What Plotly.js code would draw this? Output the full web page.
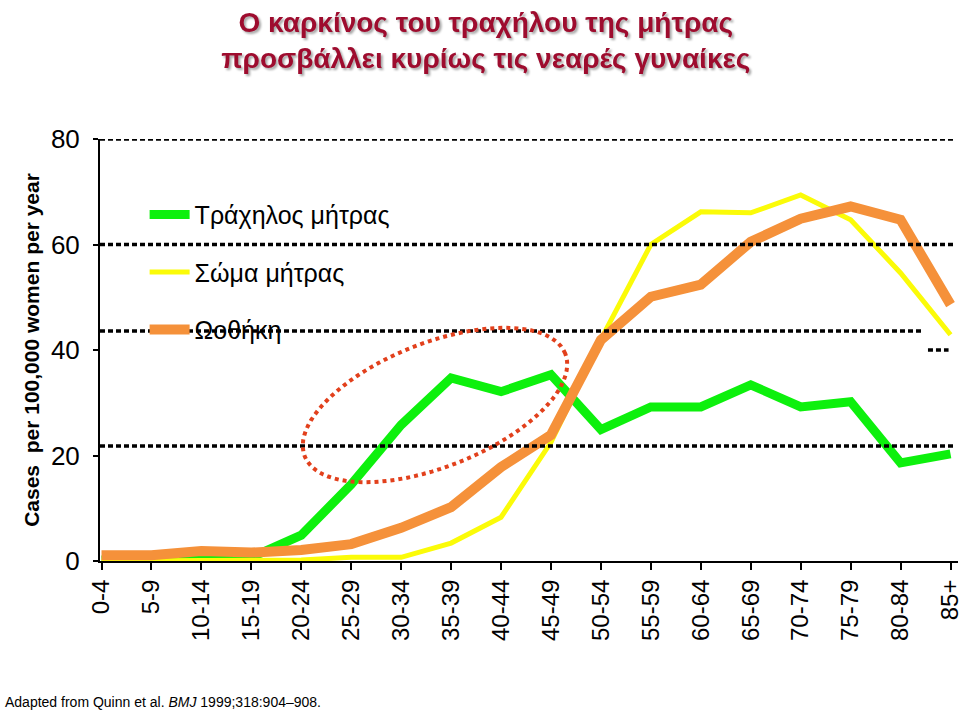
<!DOCTYPE html>
<html><head><meta charset="utf-8">
<script src="https://cdn.plot.ly/plotly-3.0.1.min.js"></script>
<style>
html,body{margin:0;padding:0;background:#fff}
#chart{width:960px;height:711px}
.gtitle{filter:drop-shadow(2px 2px 1px rgba(0,0,0,0.35))}
</style></head><body><div id="chart"></div>
<script>
const ageGroups = ['0-4','5-9','10-14','15-19','20-24','25-29','30-34','35-39','40-44','45-49','50-54','55-59','60-64','65-69','70-74','75-79','80-84','85+'];
const cervix = [0.2, 0.3, 0.6, 0.7, 4.9, 14.5, 25.8, 34.7, 32.1, 35.3, 24.9, 29.2, 29.2, 33.4, 29.2, 30.2, 18.6, 20.3];
const uterus = [0, 0, 0, 0, 0.2, 0.7, 0.7, 3.4, 8.3, 22.5, 42, 60, 66.2, 66, 69.4, 64.7, 54.6, 42.9];
const ovary  = [1.1, 1.1, 1.9, 1.6, 2.1, 3.2, 6.3, 10.2, 17.8, 23.9, 41.9, 50.1, 52.4, 60.5, 64.9, 67.2, 64.7, 48.6];
const seriesNames = ['Τράχηλος μήτρας', 'Σώμα μήτρας', 'Ωοθήκη'];
const yTicks = [0, 20, 40, 60, 80];

// plot area geometry (pixels)
const L = 100, T = 139, W = 858, H = 422;

// dotted reference lines: [y value, x start (paper), x end (paper)]
const refLines = [[80, 0, 0.995], [60, 0, 0.995], [43.6, 0, 0.958], [40, 0.965, 0.989], [21.8, 0, 0.995]];

// highlight ellipse (pixel centre, semi-axes, tilt)
const ellipse = {cx: 435, cy: 405, a: 140, b: 62, tilt: 21.5};
function ellipsePath(e) {
  const al = e.tilt * Math.PI / 180;
  let d = '';
  for (let i = 0; i <= 96; i++) {
    const t = 2 * Math.PI * i / 96;
    const ux = e.a * Math.cos(t), uy = e.b * Math.sin(t);
    const X = ux * Math.cos(al) - uy * Math.sin(al);
    const Y = ux * Math.sin(al) + uy * Math.cos(al);
    const px = e.cx + X, py = e.cy - Y;
    const xp = (px - L) / W, yp = (T + H - py) / H;
    d += (i === 0 ? 'M' : 'L') + xp.toFixed(4) + ',' + yp.toFixed(4);
  }
  return d + 'Z';
}

const shapes = refLines.map(r => ({
  type: 'line', xref: 'paper', yref: 'y', x0: r[1], x1: r[2], y0: r[0], y1: r[0],
  line: {color: '#000', width: 3.5, dash: '5px,3px'}
}));
shapes.push({type: 'path', xref: 'paper', yref: 'paper', path: ellipsePath(ellipse),
  line: {color: '#e2401c', width: 4, dash: '4px,4px'}});

const arial = '"Liberation Sans", Arial, sans-serif';

const traces = [
  {x: ageGroups, y: cervix, name: seriesNames[0], legendgroup: 'a', mode: 'lines', line: {color: '#0df00d', width: 9}},
  {x: ageGroups, y: uterus, name: seriesNames[1], legendgroup: 'b', mode: 'lines', line: {color: '#fbfb08', width: 5}},
  {x: ageGroups, y: ovary,  name: seriesNames[2], legendgroup: 'c', mode: 'lines', line: {color: '#f5913a', width: 10}}
].map(t => Object.assign(t, {cliponaxis: false, hoverinfo: 'skip'}));

const layout = {
  width: 960, height: 711,
  margin: {l: L, r: 960 - L - W, t: T, b: 711 - T - H, pad: 0},
  paper_bgcolor: '#fff', plot_bgcolor: '#fff',
  title: {text: 'Ο καρκίνος του τραχήλου της μήτρας<br>προσβάλλει κυρίως τις νεαρές γυναίκες',
    font: {family: arial, size: 28, color: '#9e0c2e', weight: 'bold'},
    x: 0.506, xanchor: 'center', y: 0.955, yanchor: 'top', yref: 'container'},
  xaxis: {type: 'category', range: [-0.03, 17.15], showgrid: false, zeroline: false,
    showline: true, linecolor: '#000', linewidth: 2, ticks: 'outside', ticklen: 7, tickwidth: 2, tickcolor: '#000',
    tickangle: -90, tickfont: {family: arial, size: 24, color: '#000'}},
  yaxis: {range: [0, 80], tickvals: yTicks, showgrid: false, zeroline: false,
    showline: true, linecolor: '#000', linewidth: 2, ticks: 'outside', ticklen: 5, tickwidth: 2, tickcolor: '#000',
    ticklabelstandoff: 8,
    tickfont: {family: arial, size: 26, color: '#000'},
    title: {text: 'Cases\u00a0 per 100,000 women per year', font: {family: arial, size: 21, color: '#000', weight: 'bold'}, standoff: 6}},
  showlegend: true,
  legend: {x: 0.052, y: 0.875, xanchor: 'left', yanchor: 'top', bgcolor: 'rgba(0,0,0,0)',
    font: {family: arial, size: 25, color: '#000'}, tracegroupgap: 22, itemwidth: 40},
  shapes: shapes,
  annotations: [{xref: 'paper', yref: 'paper', x: -0.113, y: -0.335, xanchor: 'left', yanchor: 'middle', showarrow: false,
    text: 'Adapted from Quinn et al. <i>BMJ</i> 1999;318:904–908.', font: {family: arial, size: 14, color: '#000'}}]
};

Plotly.newPlot('chart', traces, layout, {displayModeBar: false, staticPlot: true});
</script></body></html>
